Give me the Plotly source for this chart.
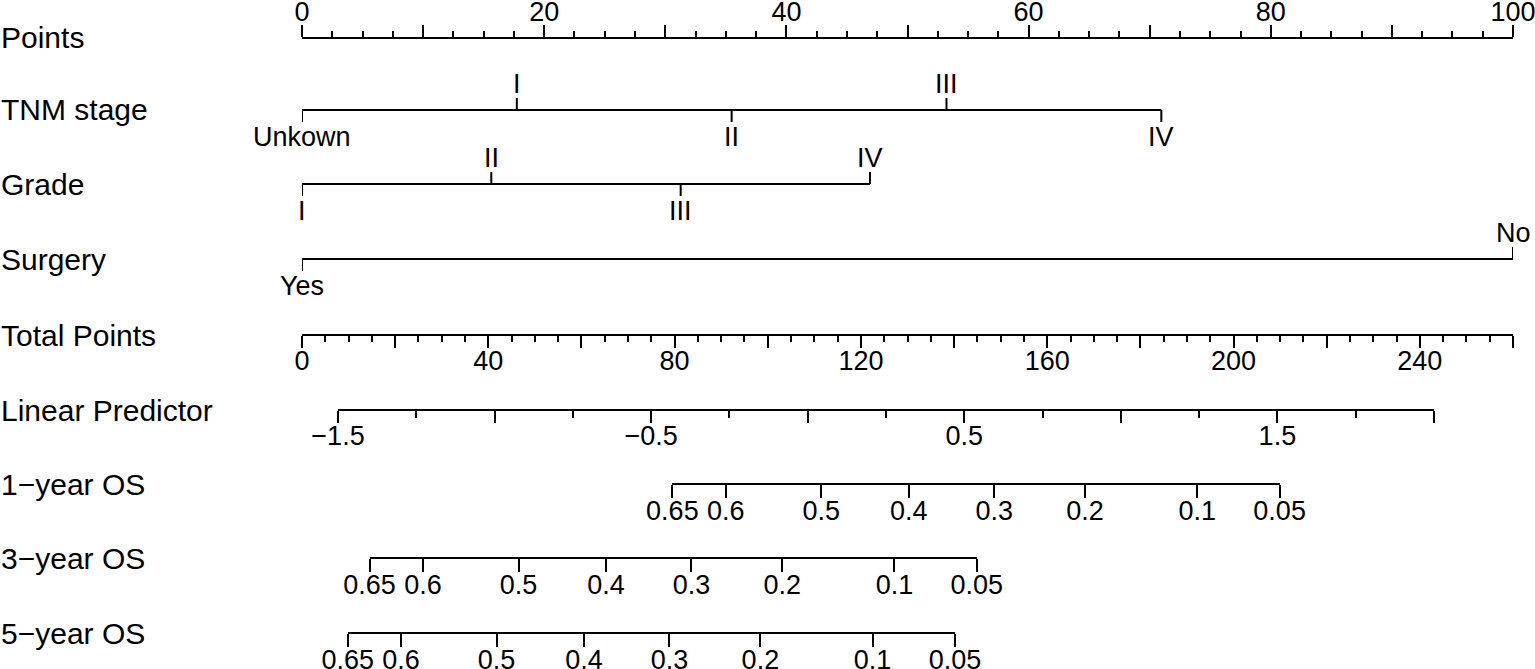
import math
import plotly.graph_objects as go

# ---------------- data ----------------
row_names = ["Points", "TNM stage", "Grade", "Surgery", "Total Points",
             "Linear Predictor", "1−year OS", "3−year OS", "5−year OS"]

points_ticks = list(range(0, 101, 10))
points_ticklabels = [str(v) if v % 20 == 0 else "" for v in points_ticks]

tnm_levels = ["Unkown", "I", "II", "III", "IV"]
tnm_points = [0, 17.74, 35.48, 53.22, 70.96]
tnm_side = ["below", "above", "below", "above", "below"]

grade_levels = ["I", "II", "III", "IV"]
grade_points = [0, 15.63, 31.27, 46.9]
grade_side = ["below", "above", "below", "above"]

surgery_levels = ["Yes", "No"]
surgery_points = [0, 100]
surgery_side = ["below", "above"]

total_ticks = list(range(0, 261, 20))
total_ticklabels = [str(v) if v % 40 == 0 else "" for v in total_ticks]

lp_ticks = [-1.5, -1.0, -0.5, 0.0, 0.5, 1.0, 1.5, 2.0]
lp_ticklabels = ["−1.5", "", "−0.5", "", "0.5", "", "1.5", ""]
lp_at_zero_points = -1.615      # linear predictor at 0 total points
lp_per_point = 0.014875         # linear predictor change per total point

os_probs = [0.65, 0.6, 0.5, 0.4, 0.3, 0.2, 0.1, 0.05]
os_ticklabels = ["0.65", "0.6", "0.5", "0.4", "0.3", "0.2", "0.1", "0.05"]
# Cox model offsets: lp = offset + log(-log(S))
os_offsets = [0.41, -0.557, -0.627]

# ---------------- layout helpers ----------------
W, H = 1535, 669
ML, MR = 302, 22
PW = W - ML - MR
FONT = "Liberation Sans, Arial, Helvetica, sans-serif"
FS = 27
FS_TITLE = 30
LW = 2
row_y = [38, 110, 184, 259, 335, 410, 484, 558, 633]
TOTAL_MAX = 260


def ypos(py):
    return 1 - py / H


def tp_from_lp(lp):
    return (lp - lp_at_zero_points) / lp_per_point


def lp_from_surv(s, off):
    return off + math.log(-math.log(s))


fig = go.Figure()
annotations = []

# row titles
for name, ry in zip(row_names, row_y):
    annotations.append(dict(text=name, xref="paper", yref="paper", x=-ML / PW, y=ypos(ry),
                            xanchor="left", yanchor="middle", showarrow=False, borderpad=0,
                            font=dict(family=FONT, size=FS_TITLE, color="black")))

# categorical rows on the Points scale
for levels, pts, sides, ry in [(tnm_levels, tnm_points, tnm_side, row_y[1]),
                               (grade_levels, grade_points, grade_side, row_y[2]),
                               (surgery_levels, surgery_points, surgery_side, row_y[3])]:
    xs = [min(pts), max(pts), None]
    ys = [ry, ry, None]
    for p, sd in zip(pts, sides):
        xs += [p, p, None]
        ys += [ry, ry - 12 if sd == "above" else ry + 12, None]
    fig.add_trace(go.Scatter(x=xs, y=ys, mode="lines", line=dict(color="black", width=LW),
                             xaxis="x", yaxis="y", hoverinfo="skip", showlegend=False,
                             cliponaxis=False))
    for lev, p, sd in zip(levels, pts, sides):
        annotations.append(dict(text=lev, xref="x", yref="y", x=p,
                                y=ry - 26 if sd == "above" else ry + 27,
                                xanchor="center", yanchor="middle", showarrow=False,
                                font=dict(family=FONT, size=FS, color="black")))

common = dict(showline=True, linecolor="black", linewidth=LW, ticks="outside",
              tickcolor="black", tickwidth=LW, ticklen=12, showgrid=False, zeroline=False,
              anchor="free", tickmode="array", automargin=False, ticklabelstandoff=-10,
              ticklabeloverflow="allow",
              tickfont=dict(family=FONT, size=FS, color="black"), fixedrange=True)

axes = {}
# Points
axes["xaxis"] = dict(common, range=[0, 100], domain=[0, 1], position=ypos(row_y[0]), side="top",
                     tickvals=points_ticks, ticktext=points_ticklabels, ticklabelstandoff=-7,
                     minor=dict(dtick=2.5, tick0=0, ticklen=6, tickwidth=LW, tickcolor="black",
                                ticks="outside", showgrid=False))
# Total points
axes["xaxis2"] = dict(common, range=[0, TOTAL_MAX], domain=[0, 1], position=ypos(row_y[4]),
                      side="bottom", tickvals=total_ticks, ticktext=total_ticklabels,
                      minor=dict(dtick=5, tick0=0, ticklen=6, tickwidth=LW, tickcolor="black",
                                 ticks="outside", showgrid=False))
# Linear predictor
lp_dom = [tp_from_lp(lp_ticks[0]) / TOTAL_MAX, tp_from_lp(lp_ticks[-1]) / TOTAL_MAX]
axes["xaxis3"] = dict(common, range=[lp_ticks[0], lp_ticks[-1]], domain=lp_dom,
                      position=ypos(row_y[5]), side="bottom",
                      tickvals=lp_ticks, ticktext=lp_ticklabels,
                      minor=dict(dtick=0.25, tick0=-1.5, ticklen=7, tickwidth=LW, tickcolor="black",
                                 ticks="outside", showgrid=False))
# survival rows
for i, off in enumerate(os_offsets):
    vals = [lp_from_surv(s, off) for s in os_probs]
    dom = [tp_from_lp(vals[0]) / TOTAL_MAX, tp_from_lp(vals[-1]) / TOTAL_MAX]
    axes[f"xaxis{4 + i}"] = dict(common, range=[vals[0], vals[-1]], domain=dom,
                                 position=ypos(row_y[6 + i]), side="bottom",
                                 tickvals=vals, ticktext=os_ticklabels, ticklen=13)

# invisible traces so every axis is drawn
for k in range(2, 7):
    ax = axes[f"xaxis{k}"]
    fig.add_trace(go.Scatter(x=[ax["range"][0]], y=[row_y[0]], mode="markers",
                             marker=dict(opacity=0), xaxis=f"x{k}", yaxis="y",
                             hoverinfo="skip", showlegend=False))

fig.update_layout(
    width=W, height=H,
    margin=dict(l=ML, r=MR, t=0, b=0, pad=0, autoexpand=False),
    paper_bgcolor="white", plot_bgcolor="rgba(0,0,0,0)",
    yaxis=dict(range=[H, 0], domain=[0, 1], visible=False, fixedrange=True, automargin=False),
    annotations=annotations,
    showlegend=False,
    **axes,
)

fig.write_html("out.html",
               config={"displayModeBar": False, "staticPlot": True},
               post_script="document.body.style.margin='0';document.body.style.overflow='hidden';")
